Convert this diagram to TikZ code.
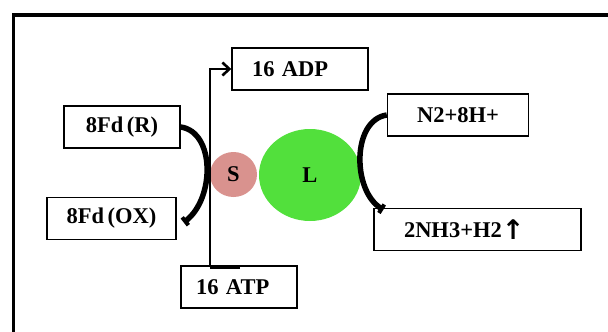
\documentclass[tikz,border=0pt]{standalone}
\usepackage{fontspec}
\setmainfont{Liberation Serif}[WordSpace=0.6]
\newfontfamily\arrowfont{DejaVu Sans}
\usetikzlibrary{arrows.meta,shapes.geometric}
\definecolor{spink}{RGB}{217,146,142}
\definecolor{lgreen}{RGB}{82,224,60}
\tikzset{
  txt/.style={font=\fontsize{22.5}{26}\bfseries\selectfont},
  box/.style={draw, line width=1.4pt, minimum height=42pt, inner ysep=0pt, txt},
  curvearrow/.style={line width=5.5pt, -{Square[length=4pt,width=10pt]}},
  atpline/.style={line width=2.8pt},
}
\begin{document}
\begin{tikzpicture}[x=1pt,y=-1pt]
\useasboundingbox (0,0) rectangle (608,332);
% frame
\draw[line width=3.2pt] (13.5,340) -- (13.5,15) -- (620,15);
% boxes
\node[box, text width=96pt, inner xsep=20pt, align=left] (adp) at (300,69) {16 ADP};
\node[box, minimum width=116pt, inner xsep=0pt] (fdr) at (122,127) {8Fd (R)};
\node[box, minimum width=129pt, inner xsep=0pt] (fdox) at (111.5,218.5) {8Fd (OX)};
\node[box, minimum width=141pt, inner xsep=0pt] (n2) at (458,115) {N2+8H+};
\node[box, text width=147pt, inner xsep=30pt, align=left] (nh3) at (477.5,229.5) {2NH3+H2\raisebox{-2pt}{\arrowfont\bfseries\fontsize{27}{27}\selectfont↑}};
\node[box, text width=86pt, inner xsep=15pt, align=left] (atp) at (239,287) {16 ATP};
% circles
\node[ellipse, fill=spink, minimum width=47pt, minimum height=45pt, inner sep=0pt, txt] (S) at (233.5,174.5) {S};
\node[ellipse, fill=lgreen, minimum width=102pt, minimum height=92pt, inner sep=0pt, txt] (L) at (310,175) {L};
% ATP -> ADP line
\coordinate (v1) at (210,267);
\coordinate (v2) at (240,267);
\draw[atpline, -{Straight Barb[length=7pt,width=13pt,line width=2.6pt]}] (v1) |- (adp.west);
\draw[line width=3.8pt] (v1) -- (v2);
% curved arrows
\draw[curvearrow] (fdr.east) .. controls (215,132) and (215,198) .. ([xshift=7pt,yshift=-4pt]fdox.east);
\draw[curvearrow] (n2.west) .. controls (352,120) and (352,190) .. ([xshift=10pt,yshift=-2pt]nh3.north west);
\end{tikzpicture}
\end{document}
